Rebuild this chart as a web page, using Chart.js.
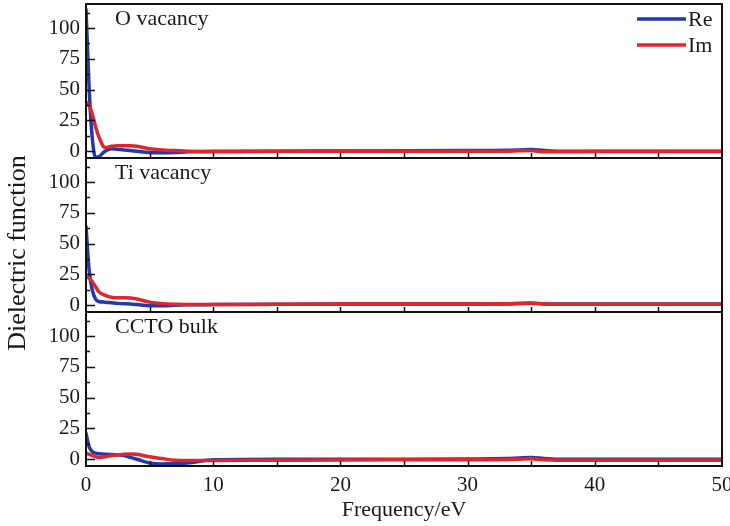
<!DOCTYPE html>
<html>
<head>
<meta charset="utf-8">
<script src="https://cdn.jsdelivr.net/npm/chart.js@4"></script>
<style>
  html, body { margin: 0; padding: 0; background: #fff; }
  #wrap { position: relative; width: 730px; height: 526px; }
  canvas { position: absolute; left: 0; top: 0; }
</style>
</head>
<body>
<div id="wrap">
  <canvas id="c1"></canvas>
  <canvas id="c2"></canvas>
  <canvas id="c3"></canvas>
</div>
<script>
// frequency grid (eV), shared by all curves
const freq = [0, 0.25, 0.5, 0.75, 1, 1.5, 2, 2.5, 3, 3.5, 4, 5, 6, 7, 8, 10, 15, 20, 25, 30, 33, 34, 35, 36, 37, 40, 45, 50];

const reO  = [115, 50, 10, -5, -4.5, 0, 2, 1.5, 1, 0.5, 0, -1, -1.2, -1, -0.5, 0, 0, 0.2, 0.3, 0.5, 0.7, 1, 1.5, 0.5, 0, 0, 0, 0];
const imO  = [40, 37, 30, 20, 12, 3, 4, 4.5, 4.5, 4.5, 4, 2, 1, 0.5, 0, -0.5, 0, 0, 0, 0, 0, 0.3, 0.5, -0.5, -0.5, -0.3, -0.3, -0.3];

const reTi = [64, 28, 12, 5, 3, 2.5, 2, 1.5, 1.2, 1, 0.5, -0.5, -0.5, 0, 0.3, 0.5, 0.8, 1, 1, 1, 1, 1.3, 1.6, 1, 1, 1, 1, 1];
const imTi = [23, 22, 19, 15, 11, 8, 6.5, 6, 6, 5.8, 5, 2.5, 1.3, 0.8, 0.5, 0.5, 0.8, 1, 1, 1, 1.2, 1.5, 1.8, 1.2, 0.8, 0.8, 0.8, 0.8];

const reBulk = [21, 10, 6, 5, 4.5, 4, 3.8, 3.5, 3, 1.5, 0, -3, -3.8, -3.5, -3, -0.5, 0, 0, 0, 0.2, 0.5, 1, 1.5, 0.5, 0, 0, 0, 0];
const imBulk = [5, 4, 3, 2, 1.5, 2, 3, 3.5, 4, 4.3, 4, 2, 0.5, -0.8, -1, -1, -0.8, -0.6, -0.5, -0.5, -0.3, 0, 0.3, -0.5, -0.8, -0.8, -0.8, -0.8];

const yTicks = [0, 25, 50, 75, 100];
const yMinor = [12.5, 37.5, 62.5, 87.5, 112.5];
const xTicks = [0, 10, 20, 30, 40, 50];
const xMinor = [5, 10, 15, 20, 25, 30, 35, 40, 45];

const BLUE = 'rgb(36,56,170)';
const RED = 'rgb(222,38,44)';
const FONT = '"Liberation Serif", "Times New Roman", serif';

function pts(ys) {
  return freq.map((f, i) => ({ x: f, y: ys[i] }));
}

const framePlugin = {
  id: 'frame',
  afterDraw(chart, args, opts) {
    const ctx = chart.ctx;
    const a = chart.chartArea;
    const ys = chart.scales.y;
    const xs = chart.scales.x;
    ctx.save();
    ctx.strokeStyle = '#111';
    ctx.lineWidth = 1.5;
    ctx.beginPath();
    yTicks.forEach(v => {
      const p = Math.round(ys.getPixelForValue(v)) + 0.5;
      ctx.moveTo(a.left, p); ctx.lineTo(a.left + 9, p);
    });
    yMinor.forEach(v => {
      const p = Math.round(ys.getPixelForValue(v)) + 0.5;
      ctx.moveTo(a.left, p); ctx.lineTo(a.left + 4, p);
    });
    xMinor.forEach(v => {
      const p = Math.round(xs.getPixelForValue(v)) + 0.5;
      ctx.moveTo(p, a.bottom); ctx.lineTo(p, a.bottom - 5);
    });
    ctx.stroke();
    ctx.lineWidth = 2;
    ctx.strokeRect(a.left, a.top, a.right - a.left, a.bottom - a.top);

    ctx.fillStyle = '#1a1a1a';
    ctx.font = '22px ' + FONT;
    ctx.textBaseline = 'alphabetic';
    ctx.textAlign = 'left';
    ctx.fillText(opts.title, a.left + 29, a.top + 21);

    if (opts.legend) {
      const rows = [['Re', BLUE, 19], ['Im', RED, 45]];
      rows.forEach(([label, color, y]) => {
        ctx.strokeStyle = color;
        ctx.lineWidth = 3.5;
        ctx.beginPath();
        ctx.moveTo(637, y); ctx.lineTo(686, y);
        ctx.stroke();
        ctx.textBaseline = 'middle';
        ctx.fillText(label, 688, y + 1);
      });
    }
    if (opts.yTitle) {
      ctx.save();
      ctx.translate(18, 253);
      ctx.rotate(-Math.PI / 2);
      ctx.textAlign = 'center';
      ctx.textBaseline = 'middle';
      ctx.font = '26px ' + FONT;
      ctx.fillText('Dielectric function', 0, 0);
      ctx.restore();
    }
    ctx.restore();
  }
};

function makePanel(id, re, im, opts) {
  const canvas = document.getElementById(id);
  canvas.width = 730;
  canvas.height = 526;
  canvas.style.width = '730px';
  canvas.style.height = '526px';
  return new Chart(canvas, {
    type: 'line',
    data: {
      datasets: [
        { label: 'Re', data: pts(re), borderColor: BLUE, borderWidth: 3.5, order: 2 },
        { label: 'Im', data: pts(im), borderColor: RED, borderWidth: 3.5, order: 1 }
      ]
    },
    options: {
      responsive: false,
      animation: false,
      devicePixelRatio: 1,
      layout: { autoPadding: false, padding: { top: opts.top, bottom: opts.bottom, left: 0, right: 8 } },
      elements: {
        point: { radius: 0 },
        line: { cubicInterpolationMode: 'monotone', fill: false, borderCapStyle: 'round' }
      },
      plugins: {
        legend: { display: false },
        tooltip: { enabled: false },
        frame: opts
      },
      scales: {
        x: {
          type: 'linear',
          min: 0, max: 50,
          display: opts.showX,
          afterBuildTicks: s => { s.ticks = xTicks.map(v => ({ value: v })); },
          afterFit: s => {
            s.height = opts.showX ? 60 : 0;
            s.paddingLeft = 0; s.paddingRight = 0;
          },
          grid: { display: false, drawTicks: false },
          border: { display: false },
          ticks: { color: '#1a1a1a', padding: 7, font: { family: FONT, size: 21 } },
          title: {
            display: true, text: 'Frequency/eV', color: '#1a1a1a',
            padding: { top: 0, bottom: 3 },
            font: { family: FONT, size: 22 }
          }
        },
        y: {
          min: -5.5, max: 119.5,
          afterBuildTicks: s => { s.ticks = yTicks.map(v => ({ value: v })); },
          afterFit: s => {
            s.width = 86;
            s.paddingTop = 0; s.paddingBottom = 0;
          },
          grid: { display: false, drawTicks: false },
          border: { display: false },
          ticks: { color: '#1a1a1a', padding: 6, font: { family: FONT, size: 21 } }
        }
      }
    },
    plugins: [framePlugin]
  });
}

makePanel('c1', reO, imO, { title: 'O vacancy', legend: true, showX: false, top: 4, bottom: 526 - 158 });
makePanel('c2', reTi, imTi, { title: 'Ti vacancy', showX: false, top: 158, bottom: 526 - 312, yTitle: true });
makePanel('c3', reBulk, imBulk, { title: 'CCTO bulk', showX: true, top: 312, bottom: 0 });
</script>
</body>
</html>
